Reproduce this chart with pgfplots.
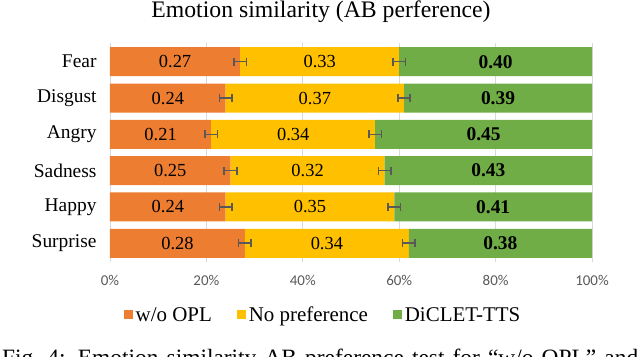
\documentclass[border=0pt]{standalone}
\usepackage{pgfplots}
\pgfplotsset{compat=1.18}
\usepackage{pgfplotstable}
\usepackage{fontspec}
\setmainfont{Liberation Serif}
\newfontfamily\carlito{Carlito}
\definecolor{cOrange}{HTML}{ED7D31}
\definecolor{cYellow}{HTML}{FFC000}
\definecolor{cGreen}{HTML}{70AD47}
\definecolor{cErr}{HTML}{595959}
\definecolor{cGrid}{HTML}{D9D9D9}
\definecolor{cTick}{HTML}{595959}

\pgfplotstableread{
y a b c
5 0.27 0.33 0.40
4 0.24 0.37 0.39
3 0.21 0.34 0.45
2 0.25 0.32 0.43
1 0.24 0.35 0.41
0 0.28 0.34 0.38
}\data

\begin{document}
\begin{tikzpicture}
\useasboundingbox (0bp,0bp) rectangle (640bp,357bp);
\begin{axis}[
  at={(110bp,95bp)}, anchor=south west, scale only axis,
  width=482bp, height=219bp,
  xmin=0, xmax=1, ymin=-0.515, ymax=5.515,
  axis line style={draw=none},
  major tick length=0pt,
  xtick={0,0.2,0.4,0.6,0.8,1},
  xticklabels={0\%,20\%,40\%,60\%,80\%,100\%},
  ytick={0,1,2,3,4,5},
  yticklabels={Surprise,Happy,Sadness,Angry,Disgust,Fear},
  xmajorgrids, grid style={cGrid, line width=0.8bp},
  xticklabel style={font=\carlito\fontsize{15}{15}\selectfont, text=cTick, yshift=-10bp},
  yticklabel style={font=\rmfamily\fontsize{19.5}{20}\selectfont, xshift=-10bp},
  legend columns=3,
  legend style={at={(0.443,-0.242)}, anchor=center, draw=none, fill=none,
    font=\rmfamily\fontsize{21}{21}\selectfont,
    /tikz/every even column/.append style={column sep=23bp},
    nodes={inner xsep=2.5bp}},
  legend image code/.code={\fill[#1] (0bp,-4.5bp) rectangle (9bp,4.5bp);},
  mybar/.style={xbar, stack plots=x, /pgf/bar shift=0pt, bar width=29bp, draw=none},
  myerr/.style={draw=none, mark=none,
    error bars/.cd, x dir=both, x fixed=0.013,
    error bar style={draw=cErr, line width=1.6bp, solid},
    error mark options={draw=cErr, line width=1.6bp, mark size=4bp, rotate=90}},
  mylab/.style={only marks, mark=none, nodes near coords, point meta=explicit symbolic,
    every node near coord/.style={anchor=center, font=\rmfamily\fontsize{18.5}{19}\selectfont, text=black}},
]
\addplot[mybar, fill=cOrange] table[x=a, y=y]{\data};
\addplot[mybar, fill=cYellow] table[x=b, y=y]{\data};
\addplot[mybar, fill=cGreen] table[x=c, y=y]{\data};
\legend{w/o OPL, No preference, DiCLET-TTS}

% error bars at segment boundaries
\addplot[forget plot, stack plots=false, myerr] table[x=a, y=y]{\data};
\addplot[forget plot, stack plots=false, myerr] table[x expr=\thisrow{a}+\thisrow{b}, y=y]{\data};

% value labels
\addplot[forget plot, stack plots=false, mylab] table[x expr=\thisrow{a}/2, y=y, meta=a]{\data};
\addplot[forget plot, stack plots=false, mylab] table[x expr=\thisrow{a}+\thisrow{b}/2, y=y, meta=b]{\data};
\addplot[forget plot, stack plots=false, mylab,
  every node near coord/.append style={font=\rmfamily\bfseries\fontsize{19.5}{19}\selectfont}]
  table[x expr=\thisrow{a}+\thisrow{b}+\thisrow{c}/2, y=y, meta=c]{\data};
\end{axis}
\node[anchor=base, font=\rmfamily\fontsize{23.8}{23}\selectfont] at (321bp,339bp) {Emotion similarity (AB perference)};
\node[anchor=base west, inner sep=0pt, font=\rmfamily\fontsize{23.5}{23}\selectfont] at (2bp,-8.3bp)
  {\makebox[636bp][s]{Fig.~4: Emotion similarity AB preference test for “w/o OPL” and}};
\end{tikzpicture}
\end{document}
